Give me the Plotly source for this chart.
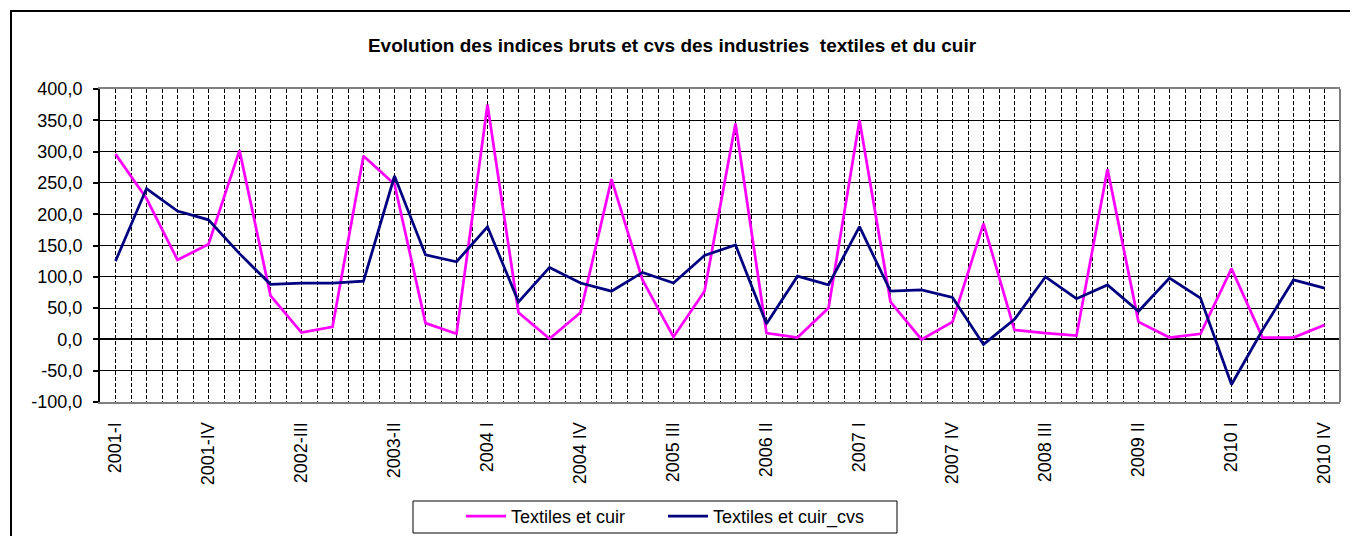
import plotly.graph_objects as go

# ---- data (40 quarters, 2001-I .. 2010-IV) ----
quarter_index = list(range(40))
textiles_cuir = [296, 225, 127, 152, 302, 70, 11, 20, 293, 248,
                 26, 9, 375, 43, 1, 43, 256, 95, 4, 77,
                 345, 10, 3, 50, 350, 60, 0, 28, 185, 15,
                 10, 6, 272, 28, 3, 9, 113, 3, 3, 23]
textiles_cuir_cvs = [125, 241, 205, 191, 137, 88, 90, 90, 93, 261,
                     135, 124, 180, 60, 115, 90, 77, 107, 90, 134,
                     151, 25, 101, 87, 180, 77, 79, 67, -8, 32,
                     100, 65, 87, 45, 98, 66, -72, 15, 95, 82]
x_tick_positions = [0, 3, 6, 9, 12, 15, 18, 21, 24, 27, 30, 33, 36, 39]
x_tick_labels = ["2001-I", "2001-IV", "2002-III", "2003-II", "2004 I", "2004 IV",
                 "2005 III", "2006 II", "2007 I", "2007 IV", "2008 III", "2009 II",
                 "2010 I", "2010 IV"]
y_tick_values = [-100, -50, 0, 50, 100, 150, 200, 250, 300, 350, 400]
y_tick_labels = ["-100,0", "-50,0", "0,0", "50,0", "100,0", "150,0", "200,0",
                 "250,0", "300,0", "350,0", "400,0"]

series_names = ["Textiles et cuir", "Textiles et cuir_cvs"]
series_colors = ["#FF00FF", "#000080"]

FONT = "Liberation Sans, Arial, sans-serif"
OFF = 8                      # page body margin
W, H = 1350, 580
L, T = 100 - OFF, 89 - OFF   # plot left/top in figure px
pw, ph = 1240, 313
R = W - L - pw
B = H - T - ph

def sx(px):  # screen x -> paper x
    return (px - OFF - L) / pw

def sy(py):  # screen y -> paper y
    return (T + ph - (py - OFF)) / ph

fig = go.Figure()
for name, vals, col in zip(series_names, [textiles_cuir, textiles_cuir_cvs], series_colors):
    fig.add_trace(go.Scatter(x=quarter_index, y=vals, mode="lines", name=name,
                             line=dict(color=col, width=2.75)))

fig.update_layout(
    width=W, height=H,
    margin=dict(l=L, r=R, t=T, b=B, pad=0),
    paper_bgcolor="white", plot_bgcolor="white",
    font=dict(family=FONT, size=18, color="black"),
    title=dict(text="<b>Evolution des indices bruts et cvs des industries  textiles et du cuir</b>",
               x=sx(672), xref="paper", xanchor="center",
               y=1 - (45 - OFF) / H, yanchor="middle",
               font=dict(family=FONT, size=19, color="black")),
    showlegend=True,
    legend=dict(orientation="h", x=sx(461), xanchor="left",
                y=sy(498), yanchor="top",
                borderwidth=0, bgcolor="rgba(0,0,0,0)",
                font=dict(family=FONT, size=18, color="black"),
                entrywidth=147, itemwidth=40),
    xaxis=dict(range=[-0.5, 39.5], tickmode="array", tickvals=x_tick_positions,
               ticktext=x_tick_labels, tickangle=-90, ticks="",
               ticklabelstandoff=11,
               showgrid=True, gridcolor="black", gridwidth=1.3, griddash="4px,2px",
               minor=dict(tick0=-0.5, dtick=0.5, showgrid=True, gridcolor="black",
                          gridwidth=1.3, griddash="4px,2px"),
               showline=True, linecolor="#808080", linewidth=2, mirror=True,
               zeroline=False, tickfont=dict(family=FONT, size=18, color="black")),
    yaxis=dict(range=[-100, 400], tickmode="array", tickvals=y_tick_values,
               ticktext=y_tick_labels, ticks="outside", ticklen=5, tickwidth=1.5,
               tickcolor="black", ticklabelstandoff=7,
               showgrid=True, gridcolor="black", gridwidth=1.3,
               zeroline=True, zerolinecolor="black", zerolinewidth=2,
               showline=True, linecolor="black", linewidth=2,
               tickfont=dict(family=FONT, size=18, color="black")),
    shapes=[
        dict(type="line", xref="paper", yref="paper", x0=1, x1=1, y0=0, y1=1,
             line=dict(color="#808080", width=2)),
        dict(type="rect", xref="paper", yref="paper",
             x0=sx(11), x1=sx(1370), y0=sy(580), y1=sy(11),
             line=dict(color="black", width=2), fillcolor="rgba(0,0,0,0)"),
        dict(type="rect", xref="paper", yref="paper",
             x0=sx(413), x1=sx(897), y0=sy(533), y1=sy(501),
             line=dict(color="black", width=1), fillcolor="rgba(0,0,0,0)"),
    ],
)

fig.write_html("out.html")
